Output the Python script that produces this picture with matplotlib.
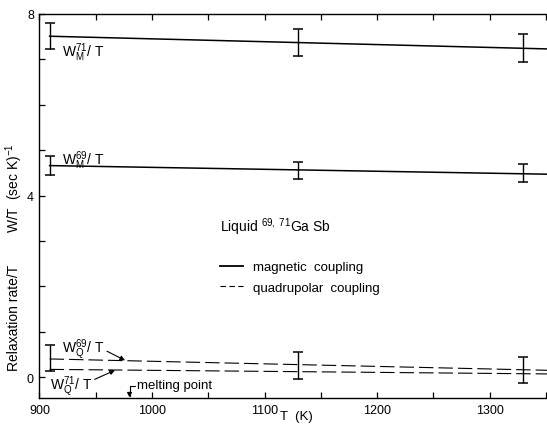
import matplotlib
matplotlib.use("Agg")
import matplotlib.pyplot as plt
import matplotlib.ticker as ticker
from matplotlib.lines import Line2D

plt.rcParams['font.family'] = ['Liberation Sans', 'DejaVu Sans']
plt.rcParams['mathtext.fontset'] = 'custom'
plt.rcParams['mathtext.rm'] = 'Liberation Sans'
plt.rcParams['mathtext.it'] = 'Liberation Sans'

# measured points with error bars
T_err = [909, 1130, 1330]
wm71 = [7.52, 7.38, 7.25]
wm71_err = [0.29, 0.30, 0.30]
wm69 = [4.66, 4.55, 4.49]
wm69_err = [0.21, 0.18, 0.20]
wq = [0.42, 0.26, 0.15]
wq_err = [0.29, 0.30, 0.29]

# fitted lines
T_line = [909, 1352]
m71_line = [7.51, 7.23]
m69_line = [4.66, 4.47]
q69_line = [0.40, 0.15]
q71_line = [0.17, 0.07]

x_ticks = [900, 1000, 1100, 1200, 1300]
y_ticks = [0, 4, 8]


def create_graph():
    fig = plt.figure(figsize=(5.47, 4.27), dpi=100)
    ax = fig.add_axes([0.0722, 0.0656, 0.9278, 0.8993])

    ax.plot(T_line, m71_line, color='black', lw=1.1)
    ax.plot(T_line, m69_line, color='black', lw=1.1)
    ax.plot(T_line, q69_line, color='black', lw=0.8, dashes=(13, 4.5))
    ax.plot(T_line, q71_line, color='black', lw=0.8, dashes=(13, 4.5))

    for vals, errs in [(wm71, wm71_err), (wm69, wm69_err), (wq, wq_err)]:
        ax.errorbar(T_err, vals, yerr=errs, fmt='none', ecolor='black',
                    elinewidth=1.0, capsize=3.5, capthick=1.1)

    ax.set_xlim(900, 1351)
    ax.set_ylim(-0.46, 8)
    ax.xaxis.set_major_locator(ticker.FixedLocator(x_ticks))
    ax.xaxis.set_minor_locator(ticker.MultipleLocator(50))
    ax.yaxis.set_major_locator(ticker.FixedLocator(y_ticks))
    ax.yaxis.set_minor_locator(ticker.MultipleLocator(1))
    ax.tick_params(which='both', direction='in', top=True, right=False,
                   length=4.5, width=0.9, labelsize=9, pad=4)
    ax.spines['right'].set_visible(False)
    for s in ['left', 'bottom', 'top']:
        ax.spines[s].set_linewidth(1.0)

    ax.set_xlabel('T  (K)', fontsize=9.5)
    ax.xaxis.set_label_coords(0.507, -0.032)
    ax.text(-0.05, 0.21, 'Relaxation rate/T', transform=ax.transAxes,
            rotation=90, ha='center', va='center', fontsize=10)
    ax.text(-0.05, 0.55, r'W/T  (sec K)$^{-1}$', transform=ax.transAxes,
            rotation=90, ha='center', va='center', fontsize=10)

    ax.text(920, 7.07, r'W$_{\rm M}^{71}$/ T', fontsize=10, va='baseline')
    ax.text(920, 4.70, r'W$_{\rm M}^{69}$/ T', fontsize=10, va='baseline')
    ax.text(920, 0.55, r'W$_{\rm Q}^{69}$/ T', fontsize=10, va='baseline')
    ax.text(909, -0.26, r'W$_{\rm Q}^{71}$/ T', fontsize=10, va='baseline')
    ax.text(1060, 3.22, r'Liquid $^{69,\ 71}$Ga Sb', fontsize=10, va='baseline')

    ax.annotate('', xy=(976, 0.37), xytext=(960, 0.57),
                arrowprops=dict(arrowstyle='-|>', color='black', lw=0.8,
                                mutation_scale=7, shrinkA=0, shrinkB=0))
    ax.annotate('', xy=(967, 0.15), xytext=(949, -0.05),
                arrowprops=dict(arrowstyle='-|>', color='black', lw=0.8,
                                mutation_scale=7, shrinkA=0, shrinkB=0))
    ax.text(987, -0.23, 'melting point', fontsize=9.5, va='baseline')
    ax.annotate('', xy=(980, -0.45), xytext=(985, -0.2),
                arrowprops=dict(arrowstyle='-|>', color='black', lw=0.8,
                                mutation_scale=7, shrinkA=0, shrinkB=0,
                                connectionstyle='angle,angleA=0,angleB=90,rad=0'))

    handles = [Line2D([], [], color='black', lw=1.3),
               Line2D([], [], color='black', lw=0.8, dashes=(5, 3))]
    ax.legend(handles, ['magnetic  coupling', 'quadrupolar  coupling'],
              loc='center left', bbox_to_anchor=(0.356, 0.314), frameon=False,
              fontsize=9.5, handlelength=1.7, handletextpad=0.8,
              borderpad=0, borderaxespad=0, labelspacing=0.6)

    fig.savefig('out.png', dpi=100)


def main():
    create_graph()


if __name__ == '__main__':
    main()
